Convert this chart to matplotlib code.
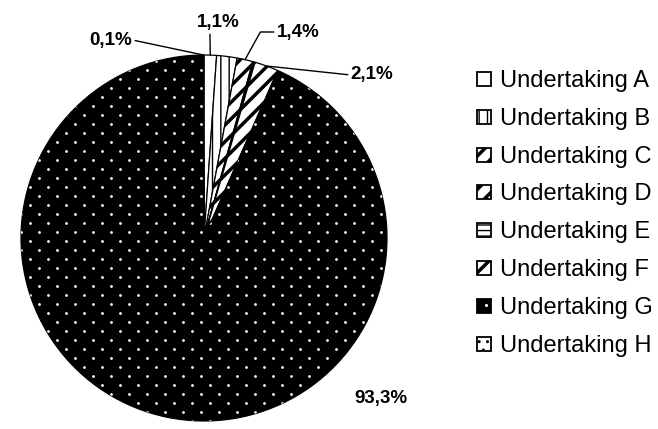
import numpy as np
import matplotlib.pyplot as plt
from matplotlib.patches import Rectangle

plt.rcParams['font.family'] = ['Liberation Sans', 'DejaVu Sans']

names = ['Undertaking A', 'Undertaking B', 'Undertaking C', 'Undertaking D',
         'Undertaking E', 'Undertaking F', 'Undertaking G', 'Undertaking H']
shares = [1.1, 1.8, 1.4, 0.1, 0.1, 2.1, 93.3, 0.1]
pct_labels = ['1,1%', '', '1,4%', '', '', '2,1%', '93,3%', '0,1%']

# fill style per undertaking
faces = ['white', 'white', 'white', 'white', 'white', 'white', 'black', 'white']
hatches = ['', '||', '//', '//', '---', '//', '', '..']
hatch_lw = [1, 1, 2.5, 2.5, 1, 2.5, 1, 1]

W, H = 658, 429
cx, cy, R = 204, H - 238, 183

# label centres and leader style (pixel coords, y measured from top)
label_xy = {0: (218, 23), 2: (298, 32), 5: (372, 75), 6: (381, 398), 7: (111, 40)}
leader = {0: ((0.31, 0.0), 'arc3'),
          2: ((0.0, 0.5), 'angle,angleA=180,angleB=61,rad=0'),
          5: ((0.0, 0.5), 'arc3'),
          7: ((1.0, 0.5), 'arc3')}

fig = plt.figure(figsize=(W / 100, H / 100), dpi=100)
ax = fig.add_axes([0, 0, 1, 1])

wedges, _ = ax.pie(shares, center=(cx, cy), radius=R, startangle=90,
                   counterclock=False,
                   wedgeprops=dict(edgecolor='black', linewidth=0.9))
for w, fc, h, lw in zip(wedges, faces, hatches, hatch_lw):
    w.set_facecolor(fc)
    w.set_hatch(h)
    if hasattr(w, 'set_hatch_linewidth'):
        w.set_hatch_linewidth(lw)

# white dot texture on the big slice
g = wedges[6]
xs = np.arange(cx - R - 18, cx + R + 18, 18)
ys = np.arange(cy - R - 9, cy + R + 9, 9)
px, py = [], []
for j, yv in enumerate(ys):
    px.extend(xs + (9 if j % 2 else 0))
    py.extend([yv] * len(xs))
dots = ax.scatter(px, py, s=4, color='white', linewidths=0, zorder=3)
dots.set_clip_path(g)

for i, (x_t, y_t) in label_xy.items():
    w = wedges[i]
    mid = np.deg2rad((w.theta1 + w.theta2) / 2)
    tip = (cx + R * np.cos(mid), cy + R * np.sin(mid))
    props = None
    if i in leader:
        rel, conn = leader[i]
        props = dict(arrowstyle='-', color='black', lw=1.0, relpos=rel,
                     connectionstyle=conn, shrinkA=0, shrinkB=0)
    ax.annotate(pct_labels[i], xy=tip, xytext=(x_t, H - y_t),
                ha='center', va='center', fontsize=13.5, fontweight='bold',
                arrowprops=props, zorder=5)

# legend drawn by hand
for k, name in enumerate(names):
    base = H - (87 + 37.8 * k)
    box = Rectangle((477, base + 1), 14, 14, facecolor=faces[k],
                    edgecolor='black', lw=1.3, hatch=hatches[k])
    if hasattr(box, 'set_hatch_linewidth'):
        box.set_hatch_linewidth(hatch_lw[k])
    ax.add_patch(box)
    if k == 6:
        ax.scatter([486], [base + 9], s=5, color='white', linewidths=0, zorder=4)
    ax.text(500, base, name, fontsize=17, ha='left', va='baseline')

ax.set_xlim(0, W)
ax.set_ylim(0, H)
ax.set_aspect('equal')
ax.axis('off')

fig.savefig('out.png', dpi=100)
